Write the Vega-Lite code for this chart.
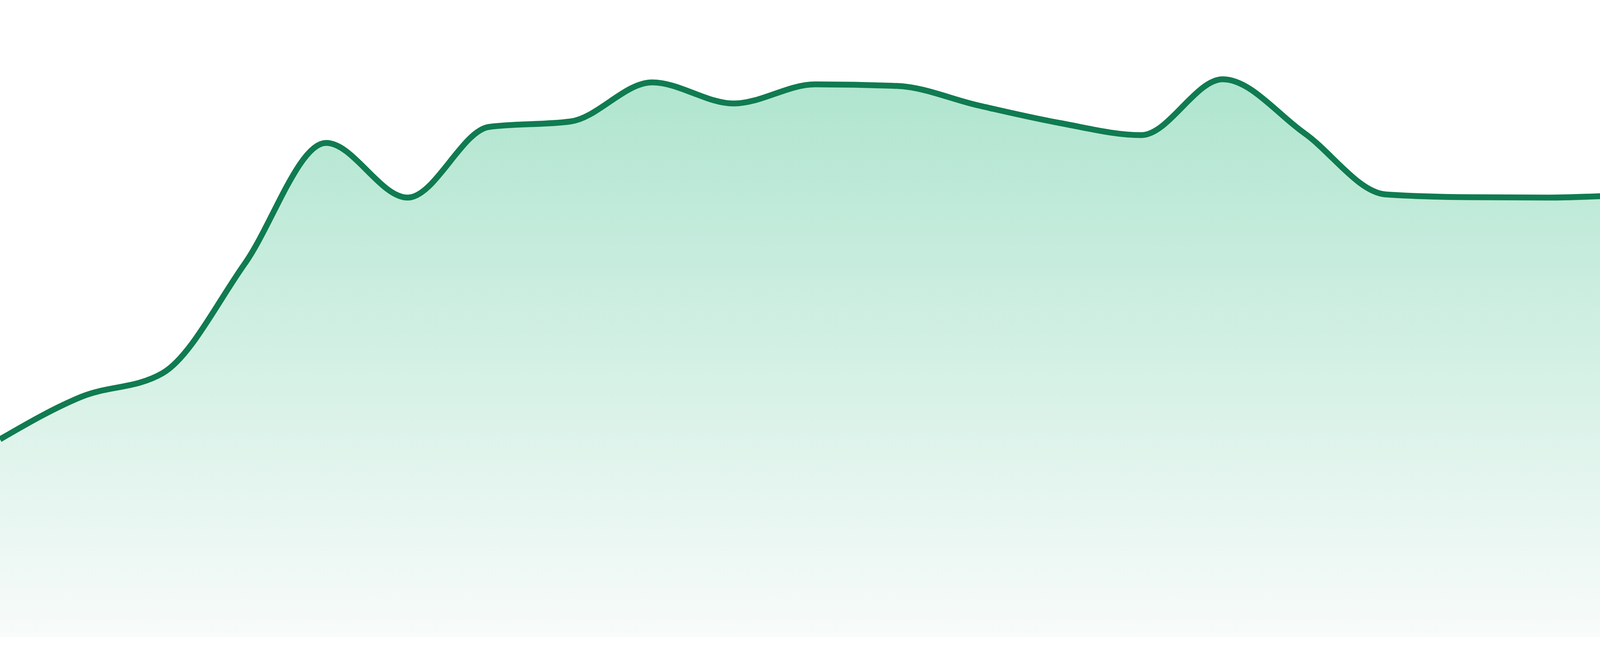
{
  "$schema": "https://vega.github.io/schema/vega-lite/v6.json",
  "width": 4800,
  "height": 1632,
  "autosize": {"type": "none"},
  "padding": {"left": 0, "right": 0, "top": 0, "bottom": 48},
  "background": "white",
  "config": {"view": {"stroke": null}},
  "data": {
    "values": [
      {"i": 0, "v": 507},
      {"i": 1, "v": 616},
      {"i": 2, "v": 677},
      {"i": 3, "v": 956},
      {"i": 4, "v": 1266},
      {"i": 5, "v": 1126},
      {"i": 6, "v": 1307},
      {"i": 7, "v": 1321},
      {"i": 8, "v": 1421},
      {"i": 9, "v": 1367},
      {"i": 10, "v": 1416},
      {"i": 11, "v": 1412},
      {"i": 12, "v": 1362},
      {"i": 13, "v": 1317},
      {"i": 14, "v": 1286},
      {"i": 15, "v": 1429},
      {"i": 16, "v": 1291},
      {"i": 17, "v": 1134},
      {"i": 18, "v": 1127},
      {"i": 19, "v": 1126},
      {"i": 20, "v": 1131},
      {"i": 21, "v": 1044},
      {"i": 22, "v": 1070},
      {"i": 23, "v": 1066}
    ]
  },
  "encoding": {
    "x": {"field": "i", "type": "quantitative", "scale": {"domain": [0, 23], "nice": false, "zero": false}, "axis": null},
    "y": {"field": "v", "type": "quantitative", "scale": {"domain": [0, 1632], "nice": false}, "axis": null}
  },
  "layer": [
    {
      "mark": {
        "type": "area",
        "interpolate": "monotone",
        "fill": {
          "gradient": "linear",
          "x1": 0, "y1": 0, "x2": 0, "y2": 1,
          "stops": [
            {"offset": 0, "color": "#afe5cf"},
            {"offset": 1, "color": "#f8fbfa"}
          ]
        }
      }
    },
    {
      "mark": {"type": "line", "interpolate": "monotone", "color": "#107b51", "strokeWidth": 15}
    }
  ]
}
